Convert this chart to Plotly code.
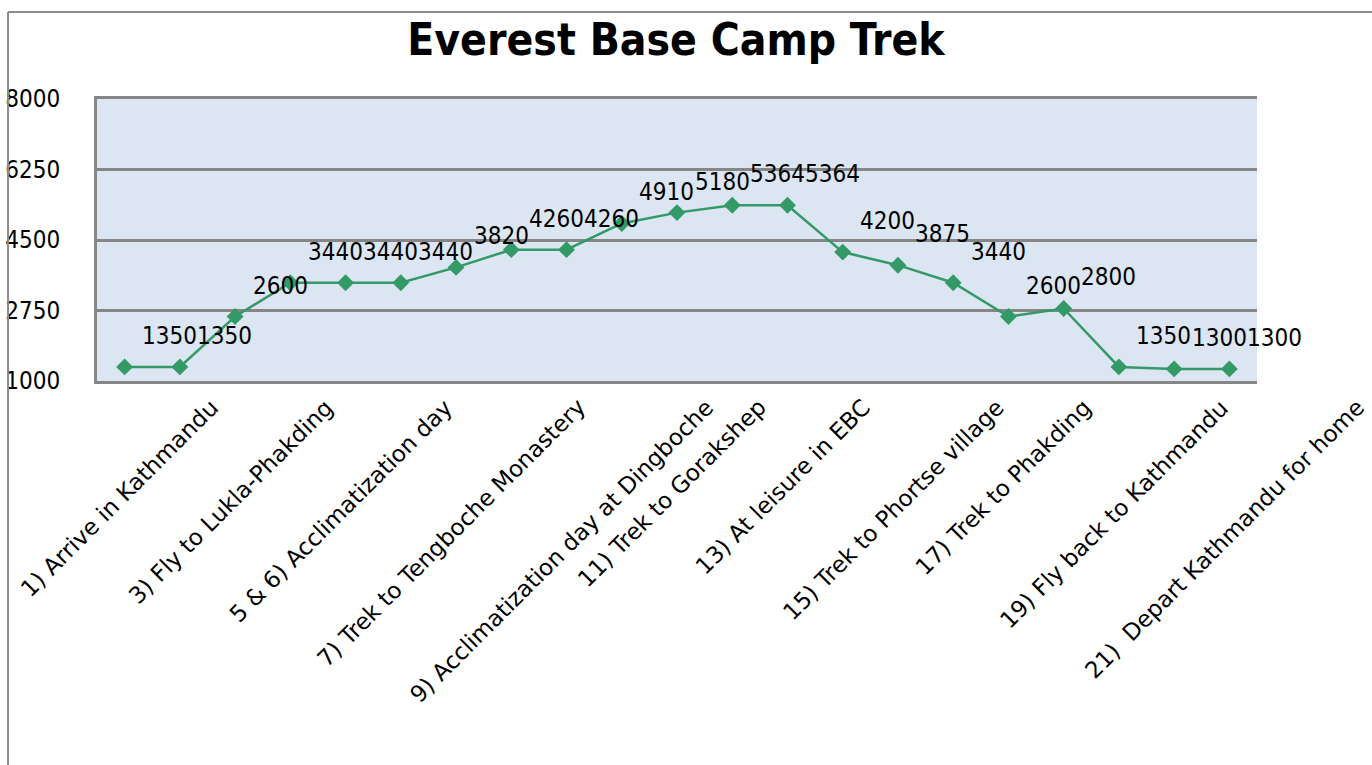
import plotly.graph_objects as go

# ---- data ----
days = list(range(1, 22))
altitudes = [1350, 1350, 2600, 3440, 3440, 3440, 3820, 4260, 4260, 4910, 5180,
             5364, 5364, 4200, 3875, 3440, 2600, 2800, 1350, 1300, 1300]
tick_days = [1, 3, 5, 7, 9, 11, 13, 15, 17, 19, 21]
tick_labels = ["1) Arrive in Kathmandu", "3) Fly to Lukla-Phakding",
               "5 & 6) Acclimatization day", "7) Trek to Tengboche Monastery",
               "9) Acclimatization day at Dingboche", "11) Trek to Gorakshep",
               "13) At leisure in EBC", "15) Trek to Phortse village",
               "17) Trek to Phakding", "19) Fly back to Kathmandu",
               "21)  Depart Kathmandu for home"]
y_ticks = [1000, 2750, 4500, 6250, 8000]
title = "Everest Base Camp Trek"

FONT = "DejaVu Sans Condensed, Liberation Sans Narrow, DejaVu Sans, sans-serif"
FONT_WIDE = "DejaVu Sans, sans-serif"
GREEN = "#339966"
GRID = "#868686"

fig = go.Figure()
fig.add_trace(go.Scatter(
    x=days, y=altitudes, mode="lines+markers",
    line=dict(color=GREEN, width=2.5),
    marker=dict(symbol="diamond", size=13, color=GREEN),
    hoverinfo="x+y", showlegend=False,
))

annotations = []
# data labels
for d, v in zip(days, altitudes):
    annotations.append(dict(
        x=d, y=v, xref="x", yref="y", text=str(v), showarrow=False,
        xanchor="center", yanchor="middle", xshift=45, yshift=31,
        font=dict(family=FONT, size=24, color="black"),
    ))
# category labels (rotated, centred under their tick)
for d, lab in zip(tick_days, tick_labels):
    annotations.append(dict(
        x=d, y=0, xref="x", yref="paper", text=lab, showarrow=False,
        textangle=-45, xanchor="center", yanchor="top", yshift=-12, xshift=-5,
        borderpad=0,
        font=dict(family=FONT_WIDE, size=23, color="black"),
    ))

fig.update_layout(
    width=1372, height=765,
    margin=dict(l=97, r=115, t=99, b=384, autoexpand=False),
    paper_bgcolor="white", plot_bgcolor="#DCE6F2",
    title=dict(text=title, x=0.4927, xanchor="center", y=0.948, yanchor="middle",
               font=dict(family=FONT, size=44, color="black", weight="bold")),
    annotations=annotations,
    xaxis=dict(range=[0.5, 21.5], showticklabels=False, showgrid=False,
               zeroline=False, showline=True, mirror=True, linecolor=GRID,
               linewidth=3, ticks="", automargin=False),
    yaxis=dict(range=[1000, 8000], tickvals=y_ticks, showgrid=True,
               gridcolor=GRID, gridwidth=2.5, zeroline=False, showline=True,
               linecolor=GRID, linewidth=3, ticks="", ticklabelstandoff=29,
               automargin=False,
               tickfont=dict(family=FONT, size=24, color="black")),
    shapes=[
        dict(type="line", xref="paper", yref="paper", x0=-0.0767, x1=1.2,
             y0=1.3085, y1=1.3085, line=dict(color="#8C8C8C", width=2)),
        dict(type="line", xref="paper", yref="paper", x0=-0.0767, x1=-0.0767,
             y0=1.3085, y1=-1.4, line=dict(color="#8C8C8C", width=2)),
    ],
)

fig.write_html("out.html", config={"displayModeBar": False},
               post_script="document.body.style.margin='0';"
                           "document.body.style.overflow='hidden';")
